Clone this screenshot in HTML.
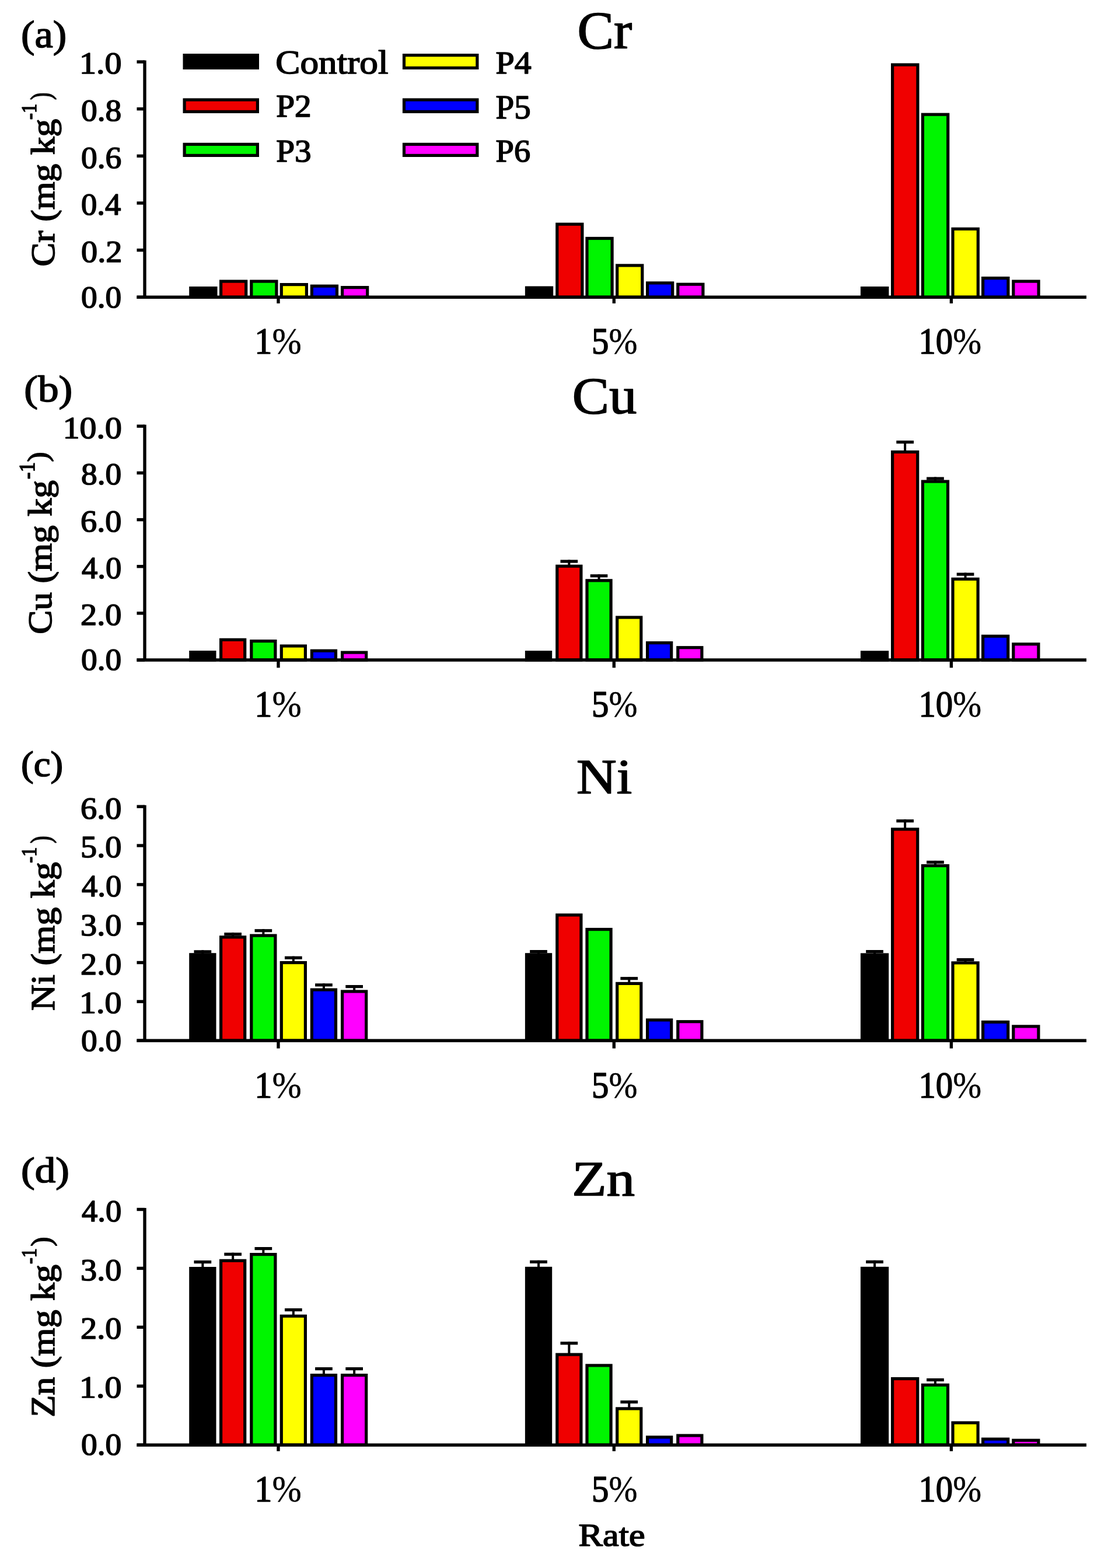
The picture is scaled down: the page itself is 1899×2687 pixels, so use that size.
<!DOCTYPE html>
<html><head><meta charset="utf-8"><title>Heavy metal concentrations</title>
<style>html,body{margin:0;padding:0;background:#fff;}svg{display:block;}</style>
</head><body>
<svg width="1899" height="2687" viewBox="0 0 1899 2687" font-family="'Liberation Serif', 'DejaVu Serif', serif" font-weight="normal" fill="#000">
<style>text{stroke:#000;stroke-width:1.6px;stroke-linejoin:round} .pc{stroke-width:0.4px}</style>
<line x1="248" y1="103.5" x2="248" y2="509.3" stroke="#000" stroke-width="5.4"/>
<line x1="234.5" y1="509.3" x2="248" y2="509.3" stroke="#000" stroke-width="5.4"/>
<line x1="234.5" y1="428.64" x2="248" y2="428.64" stroke="#000" stroke-width="5.4"/>
<line x1="234.5" y1="347.98" x2="248" y2="347.98" stroke="#000" stroke-width="5.4"/>
<line x1="234.5" y1="267.32" x2="248" y2="267.32" stroke="#000" stroke-width="5.4"/>
<line x1="234.5" y1="186.66" x2="248" y2="186.66" stroke="#000" stroke-width="5.4"/>
<line x1="234.5" y1="106" x2="248" y2="106" stroke="#000" stroke-width="5.4"/>
<rect x="326.8" y="493.6" width="43.1" height="15.7" fill="#000000" stroke="#000" stroke-width="5.2"/>
<rect x="378.6" y="482.1" width="43.1" height="27.2" fill="#f00000" stroke="#000" stroke-width="5.2"/>
<rect x="430.8" y="482.1" width="43.1" height="27.2" fill="#00f500" stroke="#000" stroke-width="5.2"/>
<rect x="482.3" y="487.6" width="43.1" height="21.7" fill="#ffff00" stroke="#000" stroke-width="5.2"/>
<rect x="534.4" y="490.2" width="43.1" height="19.1" fill="#0000ff" stroke="#000" stroke-width="5.2"/>
<rect x="586.6" y="492.6" width="43.1" height="16.7" fill="#ff00ff" stroke="#000" stroke-width="5.2"/>
<rect x="902.5" y="493.1" width="43.1" height="16.2" fill="#000000" stroke="#000" stroke-width="5.2"/>
<rect x="954.8" y="384.2" width="43.1" height="125.1" fill="#f00000" stroke="#000" stroke-width="5.2"/>
<rect x="1006" y="408.5" width="43.1" height="100.8" fill="#00f500" stroke="#000" stroke-width="5.2"/>
<rect x="1057.7" y="454.9" width="43.1" height="54.4" fill="#ffff00" stroke="#000" stroke-width="5.2"/>
<rect x="1109.6" y="484.9" width="43.1" height="24.4" fill="#0000ff" stroke="#000" stroke-width="5.2"/>
<rect x="1161.8" y="487.2" width="43.1" height="22.1" fill="#ff00ff" stroke="#000" stroke-width="5.2"/>
<rect x="1477.5" y="493.6" width="43.3" height="15.7" fill="#000000" stroke="#000" stroke-width="5.2"/>
<rect x="1529.6" y="111" width="43.3" height="398.3" fill="#f00000" stroke="#000" stroke-width="5.2"/>
<rect x="1581.4" y="196.2" width="43.3" height="313.1" fill="#00f500" stroke="#000" stroke-width="5.2"/>
<rect x="1633" y="392.3" width="43.3" height="117" fill="#ffff00" stroke="#000" stroke-width="5.2"/>
<rect x="1684.6" y="476.6" width="43.3" height="32.7" fill="#0000ff" stroke="#000" stroke-width="5.2"/>
<rect x="1736.8" y="482.1" width="43.3" height="27.2" fill="#ff00ff" stroke="#000" stroke-width="5.2"/>
<line x1="234.5" y1="509.3" x2="1862" y2="509.3" stroke="#000" stroke-width="5.4"/>
<line x1="477" y1="509.3" x2="477" y2="519.9" stroke="#000" stroke-width="5.4"/>
<line x1="1052.3" y1="509.3" x2="1052.3" y2="519.9" stroke="#000" stroke-width="5.4"/>
<line x1="1630.4" y1="509.3" x2="1630.4" y2="519.9" stroke="#000" stroke-width="5.4"/>
<line x1="248" y1="727.8" x2="248" y2="1131" stroke="#000" stroke-width="5.4"/>
<line x1="234.5" y1="1131" x2="248" y2="1131" stroke="#000" stroke-width="5.4"/>
<line x1="234.5" y1="1050.86" x2="248" y2="1050.86" stroke="#000" stroke-width="5.4"/>
<line x1="234.5" y1="970.72" x2="248" y2="970.72" stroke="#000" stroke-width="5.4"/>
<line x1="234.5" y1="890.58" x2="248" y2="890.58" stroke="#000" stroke-width="5.4"/>
<line x1="234.5" y1="810.44" x2="248" y2="810.44" stroke="#000" stroke-width="5.4"/>
<line x1="234.5" y1="730.3" x2="248" y2="730.3" stroke="#000" stroke-width="5.4"/>
<rect x="326.8" y="1117.6" width="41.1" height="13.4" fill="#000000" stroke="#000" stroke-width="5.2"/>
<rect x="378.6" y="1096.3" width="41.1" height="34.7" fill="#f00000" stroke="#000" stroke-width="5.2"/>
<rect x="430.8" y="1098.6" width="41.1" height="32.4" fill="#00f500" stroke="#000" stroke-width="5.2"/>
<rect x="482.3" y="1107" width="41.1" height="24" fill="#ffff00" stroke="#000" stroke-width="5.2"/>
<rect x="534.4" y="1115.2" width="41.1" height="15.8" fill="#0000ff" stroke="#000" stroke-width="5.2"/>
<rect x="586.6" y="1118.1" width="41.1" height="12.9" fill="#ff00ff" stroke="#000" stroke-width="5.2"/>
<rect x="902.5" y="1117.7" width="41.1" height="13.3" fill="#000000" stroke="#000" stroke-width="5.2"/>
<rect x="954.8" y="970.2" width="41.1" height="160.8" fill="#f00000" stroke="#000" stroke-width="5.2"/>
<rect x="973.35" y="959.4" width="4" height="9.2" fill="#000"/>
<rect x="960.5" y="959.4" width="29.7" height="5.2" fill="#000"/>
<rect x="1006" y="994.8" width="41.1" height="136.2" fill="#00f500" stroke="#000" stroke-width="5.2"/>
<rect x="1024.55" y="984.2" width="4" height="9" fill="#000"/>
<rect x="1011.7" y="984.2" width="29.7" height="5.2" fill="#000"/>
<rect x="1057.7" y="1058" width="41.1" height="73" fill="#ffff00" stroke="#000" stroke-width="5.2"/>
<rect x="1109.6" y="1101.6" width="41.1" height="29.4" fill="#0000ff" stroke="#000" stroke-width="5.2"/>
<rect x="1161.8" y="1109.7" width="41.1" height="21.3" fill="#ff00ff" stroke="#000" stroke-width="5.2"/>
<rect x="1477.5" y="1117.8" width="43.1" height="13.2" fill="#000000" stroke="#000" stroke-width="5.2"/>
<rect x="1529.6" y="774.5" width="43.1" height="356.5" fill="#f00000" stroke="#000" stroke-width="5.2"/>
<rect x="1549.15" y="755" width="4" height="17.9" fill="#000"/>
<rect x="1536.3" y="755" width="29.7" height="5.2" fill="#000"/>
<rect x="1581.4" y="825.1" width="43.1" height="305.9" fill="#00f500" stroke="#000" stroke-width="5.2"/>
<rect x="1600.95" y="817.5" width="4" height="6" fill="#000"/>
<rect x="1588.1" y="817.5" width="29.7" height="5.2" fill="#000"/>
<rect x="1633" y="992.3" width="43.1" height="138.7" fill="#ffff00" stroke="#000" stroke-width="5.2"/>
<rect x="1652.55" y="981.5" width="4" height="9.2" fill="#000"/>
<rect x="1639.7" y="981.5" width="29.7" height="5.2" fill="#000"/>
<rect x="1684.6" y="1090.2" width="43.1" height="40.8" fill="#0000ff" stroke="#000" stroke-width="5.2"/>
<rect x="1736.8" y="1103.8" width="43.1" height="27.2" fill="#ff00ff" stroke="#000" stroke-width="5.2"/>
<line x1="234.5" y1="1131" x2="1862" y2="1131" stroke="#000" stroke-width="5.4"/>
<line x1="477" y1="1131" x2="477" y2="1144.3" stroke="#000" stroke-width="5.4"/>
<line x1="1052.3" y1="1131" x2="1052.3" y2="1144.3" stroke="#000" stroke-width="5.4"/>
<line x1="1630.4" y1="1131" x2="1630.4" y2="1144.3" stroke="#000" stroke-width="5.4"/>
<line x1="248" y1="1379.7" x2="248" y2="1783.2" stroke="#000" stroke-width="5.4"/>
<line x1="234.5" y1="1783.2" x2="248" y2="1783.2" stroke="#000" stroke-width="5.4"/>
<line x1="234.5" y1="1716.37" x2="248" y2="1716.37" stroke="#000" stroke-width="5.4"/>
<line x1="234.5" y1="1649.53" x2="248" y2="1649.53" stroke="#000" stroke-width="5.4"/>
<line x1="234.5" y1="1582.7" x2="248" y2="1582.7" stroke="#000" stroke-width="5.4"/>
<line x1="234.5" y1="1515.87" x2="248" y2="1515.87" stroke="#000" stroke-width="5.4"/>
<line x1="234.5" y1="1449.03" x2="248" y2="1449.03" stroke="#000" stroke-width="5.4"/>
<line x1="234.5" y1="1382.2" x2="248" y2="1382.2" stroke="#000" stroke-width="5.4"/>
<rect x="326.8" y="1635.8" width="41.1" height="147.4" fill="#000000" stroke="#000" stroke-width="5.2"/>
<rect x="345.35" y="1628.3" width="4" height="5.9" fill="#000"/>
<rect x="332.5" y="1628.3" width="29.7" height="5.2" fill="#000"/>
<rect x="378.6" y="1605.9" width="41.1" height="177.3" fill="#f00000" stroke="#000" stroke-width="5.2"/>
<rect x="397.15" y="1598.2" width="4" height="6.1" fill="#000"/>
<rect x="384.3" y="1598.2" width="29.7" height="5.2" fill="#000"/>
<rect x="430.8" y="1603.2" width="41.1" height="180" fill="#00f500" stroke="#000" stroke-width="5.2"/>
<rect x="449.35" y="1592.2" width="4" height="9.4" fill="#000"/>
<rect x="436.5" y="1592.2" width="29.7" height="5.2" fill="#000"/>
<rect x="482.3" y="1649.6" width="41.1" height="133.6" fill="#ffff00" stroke="#000" stroke-width="5.2"/>
<rect x="500.85" y="1638.7" width="4" height="9.3" fill="#000"/>
<rect x="488" y="1638.7" width="29.7" height="5.2" fill="#000"/>
<rect x="534.4" y="1696.1" width="41.1" height="87.1" fill="#0000ff" stroke="#000" stroke-width="5.2"/>
<rect x="552.95" y="1685.3" width="4" height="9.2" fill="#000"/>
<rect x="540.1" y="1685.3" width="29.7" height="5.2" fill="#000"/>
<rect x="586.6" y="1699" width="41.1" height="84.2" fill="#ff00ff" stroke="#000" stroke-width="5.2"/>
<rect x="605.15" y="1688" width="4" height="9.4" fill="#000"/>
<rect x="592.3" y="1688" width="29.7" height="5.2" fill="#000"/>
<rect x="902.5" y="1635.8" width="41.1" height="147.4" fill="#000000" stroke="#000" stroke-width="5.2"/>
<rect x="921.05" y="1628" width="4" height="6.2" fill="#000"/>
<rect x="908.2" y="1628" width="29.7" height="5.2" fill="#000"/>
<rect x="954.8" y="1568" width="41.1" height="215.2" fill="#f00000" stroke="#000" stroke-width="5.2"/>
<rect x="1006" y="1592.6" width="41.1" height="190.6" fill="#00f500" stroke="#000" stroke-width="5.2"/>
<rect x="1057.7" y="1685.4" width="41.1" height="97.8" fill="#ffff00" stroke="#000" stroke-width="5.2"/>
<rect x="1076.25" y="1674.1" width="4" height="9.7" fill="#000"/>
<rect x="1063.4" y="1674.1" width="29.7" height="5.2" fill="#000"/>
<rect x="1109.6" y="1747.9" width="41.1" height="35.3" fill="#0000ff" stroke="#000" stroke-width="5.2"/>
<rect x="1161.8" y="1750.7" width="41.1" height="32.5" fill="#ff00ff" stroke="#000" stroke-width="5.2"/>
<rect x="1477.5" y="1636" width="43.1" height="147.2" fill="#000000" stroke="#000" stroke-width="5.2"/>
<rect x="1497.05" y="1628" width="4" height="6.4" fill="#000"/>
<rect x="1484.2" y="1628" width="29.7" height="5.2" fill="#000"/>
<rect x="1529.6" y="1421" width="43.1" height="362.2" fill="#f00000" stroke="#000" stroke-width="5.2"/>
<rect x="1549.15" y="1404.2" width="4" height="15.2" fill="#000"/>
<rect x="1536.3" y="1404.2" width="29.7" height="5.2" fill="#000"/>
<rect x="1581.4" y="1483.5" width="43.1" height="299.7" fill="#00f500" stroke="#000" stroke-width="5.2"/>
<rect x="1600.95" y="1474.9" width="4" height="7" fill="#000"/>
<rect x="1588.1" y="1474.9" width="29.7" height="5.2" fill="#000"/>
<rect x="1633" y="1650" width="43.1" height="133.2" fill="#ffff00" stroke="#000" stroke-width="5.2"/>
<rect x="1652.55" y="1642" width="4" height="6.4" fill="#000"/>
<rect x="1639.7" y="1642" width="29.7" height="5.2" fill="#000"/>
<rect x="1684.6" y="1751.4" width="43.1" height="31.8" fill="#0000ff" stroke="#000" stroke-width="5.2"/>
<rect x="1736.8" y="1758.9" width="43.1" height="24.3" fill="#ff00ff" stroke="#000" stroke-width="5.2"/>
<line x1="234.5" y1="1783.2" x2="1862" y2="1783.2" stroke="#000" stroke-width="5.4"/>
<line x1="477" y1="1783.2" x2="477" y2="1796.6" stroke="#000" stroke-width="5.4"/>
<line x1="1052.3" y1="1783.2" x2="1052.3" y2="1796.6" stroke="#000" stroke-width="5.4"/>
<line x1="1630.4" y1="1783.2" x2="1630.4" y2="1796.6" stroke="#000" stroke-width="5.4"/>
<line x1="248" y1="2070" x2="248" y2="2476.2" stroke="#000" stroke-width="5.4"/>
<line x1="234.5" y1="2476.2" x2="248" y2="2476.2" stroke="#000" stroke-width="5.4"/>
<line x1="234.5" y1="2375.27" x2="248" y2="2375.27" stroke="#000" stroke-width="5.4"/>
<line x1="234.5" y1="2274.35" x2="248" y2="2274.35" stroke="#000" stroke-width="5.4"/>
<line x1="234.5" y1="2173.43" x2="248" y2="2173.43" stroke="#000" stroke-width="5.4"/>
<line x1="234.5" y1="2072.5" x2="248" y2="2072.5" stroke="#000" stroke-width="5.4"/>
<rect x="326.8" y="2173.6" width="41.1" height="302.6" fill="#000000" stroke="#000" stroke-width="5.2"/>
<rect x="345.35" y="2160" width="4" height="12" fill="#000"/>
<rect x="332.5" y="2160" width="29.7" height="5.2" fill="#000"/>
<rect x="378.6" y="2160.3" width="41.1" height="315.9" fill="#f00000" stroke="#000" stroke-width="5.2"/>
<rect x="397.15" y="2146.7" width="4" height="12" fill="#000"/>
<rect x="384.3" y="2146.7" width="29.7" height="5.2" fill="#000"/>
<rect x="430.8" y="2149.6" width="41.1" height="326.6" fill="#00f500" stroke="#000" stroke-width="5.2"/>
<rect x="449.35" y="2137" width="4" height="11" fill="#000"/>
<rect x="436.5" y="2137" width="29.7" height="5.2" fill="#000"/>
<rect x="482.3" y="2255.3" width="41.1" height="220.9" fill="#ffff00" stroke="#000" stroke-width="5.2"/>
<rect x="500.85" y="2242" width="4" height="11.7" fill="#000"/>
<rect x="488" y="2242" width="29.7" height="5.2" fill="#000"/>
<rect x="534.4" y="2356.6" width="41.1" height="119.6" fill="#0000ff" stroke="#000" stroke-width="5.2"/>
<rect x="552.95" y="2343" width="4" height="12" fill="#000"/>
<rect x="540.1" y="2343" width="29.7" height="5.2" fill="#000"/>
<rect x="586.6" y="2356.6" width="41.1" height="119.6" fill="#ff00ff" stroke="#000" stroke-width="5.2"/>
<rect x="605.15" y="2343" width="4" height="12" fill="#000"/>
<rect x="592.3" y="2343" width="29.7" height="5.2" fill="#000"/>
<rect x="902.5" y="2173.4" width="41.1" height="302.8" fill="#000000" stroke="#000" stroke-width="5.2"/>
<rect x="921.05" y="2159.8" width="4" height="12" fill="#000"/>
<rect x="908.2" y="2159.8" width="29.7" height="5.2" fill="#000"/>
<rect x="954.8" y="2321.2" width="41.1" height="155" fill="#f00000" stroke="#000" stroke-width="5.2"/>
<rect x="973.35" y="2299.2" width="4" height="20.4" fill="#000"/>
<rect x="960.5" y="2299.2" width="29.7" height="5.2" fill="#000"/>
<rect x="1006" y="2339.9" width="41.1" height="136.3" fill="#00f500" stroke="#000" stroke-width="5.2"/>
<rect x="1057.7" y="2413.9" width="41.1" height="62.3" fill="#ffff00" stroke="#000" stroke-width="5.2"/>
<rect x="1076.25" y="2399.9" width="4" height="12.4" fill="#000"/>
<rect x="1063.4" y="2399.9" width="29.7" height="5.2" fill="#000"/>
<rect x="1109.6" y="2462.8" width="41.1" height="13.4" fill="#0000ff" stroke="#000" stroke-width="5.2"/>
<rect x="1161.8" y="2460" width="41.1" height="16.2" fill="#ff00ff" stroke="#000" stroke-width="5.2"/>
<rect x="1477.5" y="2173.4" width="43.1" height="302.8" fill="#000000" stroke="#000" stroke-width="5.2"/>
<rect x="1497.05" y="2159.8" width="4" height="12" fill="#000"/>
<rect x="1484.2" y="2159.8" width="29.7" height="5.2" fill="#000"/>
<rect x="1529.6" y="2362.6" width="43.1" height="113.6" fill="#f00000" stroke="#000" stroke-width="5.2"/>
<rect x="1581.4" y="2373.4" width="43.1" height="102.8" fill="#00f500" stroke="#000" stroke-width="5.2"/>
<rect x="1600.95" y="2362" width="4" height="9.8" fill="#000"/>
<rect x="1588.1" y="2362" width="29.7" height="5.2" fill="#000"/>
<rect x="1633" y="2438.1" width="43.1" height="38.1" fill="#ffff00" stroke="#000" stroke-width="5.2"/>
<rect x="1684.6" y="2466.1" width="43.1" height="10.1" fill="#0000ff" stroke="#000" stroke-width="5.2"/>
<rect x="1736.8" y="2468.2" width="43.1" height="8" fill="#ff00ff" stroke="#000" stroke-width="5.2"/>
<line x1="234.5" y1="2476.2" x2="1862" y2="2476.2" stroke="#000" stroke-width="5.4"/>
<line x1="477" y1="2476.2" x2="477" y2="2486.8" stroke="#000" stroke-width="5.4"/>
<line x1="1052.3" y1="2476.2" x2="1052.3" y2="2486.8" stroke="#000" stroke-width="5.4"/>
<line x1="1630.4" y1="2476.2" x2="1630.4" y2="2486.8" stroke="#000" stroke-width="5.4"/>
<rect x="316.1" y="94.6" width="125.3" height="21.8" fill="#000000" stroke="#000" stroke-width="5.2"/>
<rect x="316.1" y="171" width="125.3" height="20.4" fill="#f00000" stroke="#000" stroke-width="5.2"/>
<rect x="316.1" y="247.3" width="125.3" height="19.1" fill="#00f500" stroke="#000" stroke-width="5.2"/>
<rect x="692.5" y="94.6" width="125.4" height="21.8" fill="#ffff00" stroke="#000" stroke-width="5.2"/>
<rect x="692.5" y="171" width="125.4" height="20.4" fill="#0000ff" stroke="#000" stroke-width="5.2"/>
<rect x="692.5" y="247.3" width="125.4" height="19.1" fill="#ff00ff" stroke="#000" stroke-width="5.2"/>
<text id="ta0" x="139.02" y="526.54" font-size="53.6" textLength="69.32" lengthAdjust="spacingAndGlyphs">0.0</text>
<text id="ta1" x="139" y="449.27" font-size="53.6" textLength="70.35" lengthAdjust="spacingAndGlyphs">0.2</text>
<text id="ta2" x="139.02" y="367.99" font-size="53.6" textLength="68.31" lengthAdjust="spacingAndGlyphs">0.4</text>
<text id="ta3" x="139.02" y="287.76" font-size="53.6" textLength="69.32" lengthAdjust="spacingAndGlyphs">0.6</text>
<text id="ta4" x="139.02" y="206.5" font-size="53.6" textLength="69.32" lengthAdjust="spacingAndGlyphs">0.8</text>
<text id="ta5" x="135.92" y="126.22" font-size="53.6" textLength="72.51" lengthAdjust="spacingAndGlyphs">1.0</text>
<text id="xa0" x="436.26" y="606.3" font-size="64.3" textLength="80.45" lengthAdjust="spacingAndGlyphs">1<tspan class="pc">%</tspan></text>
<text id="xa1" x="1013.96" y="606.3" font-size="64.3" textLength="78.56" lengthAdjust="spacingAndGlyphs">5<tspan class="pc">%</tspan></text>
<text id="xa2" x="1574.46" y="606.3" font-size="64.3" textLength="107.65" lengthAdjust="spacingAndGlyphs">10<tspan class="pc">%</tspan></text>
<text id="tia" x="989.42" y="83.42" font-size="89.98" textLength="93.68" lengthAdjust="spacingAndGlyphs">Cr</text>
<text id="pla" x="35.96" y="80.88" font-size="65.34" textLength="78.25" lengthAdjust="spacingAndGlyphs">(a)</text>
<text id="yma" transform="translate(93.04 456.76) rotate(-90)" font-size="58.06" textLength="253.15" lengthAdjust="spacingAndGlyphs">Cr (mg kg</text>
<text id="ysa" transform="translate(61.62 204.91) rotate(-90)" font-size="35.65" textLength="27.15" lengthAdjust="spacingAndGlyphs">-1</text>
<text id="ypa" transform="translate(86.28 170.98) rotate(-90)" font-size="49.36" textLength="12.39" lengthAdjust="spacingAndGlyphs">)</text>
<text id="tb0" x="139.02" y="1148.21" font-size="53.6" textLength="69.32" lengthAdjust="spacingAndGlyphs">0.0</text>
<text id="tb1" x="138" y="1070.78" font-size="53.6" textLength="70.35" lengthAdjust="spacingAndGlyphs">2.0</text>
<text id="tb2" x="140.02" y="991.32" font-size="53.6" textLength="68.31" lengthAdjust="spacingAndGlyphs">4.0</text>
<text id="tb3" x="138" y="910.87" font-size="53.6" textLength="70.35" lengthAdjust="spacingAndGlyphs">6.0</text>
<text id="tb4" x="139.02" y="830.39" font-size="53.6" textLength="69.32" lengthAdjust="spacingAndGlyphs">8.0</text>
<text id="tb5" x="107.76" y="751.02" font-size="53.6" textLength="101.03" lengthAdjust="spacingAndGlyphs">10.0</text>
<text id="xb0" x="436.26" y="1228.12" font-size="64.3" textLength="80.45" lengthAdjust="spacingAndGlyphs">1<tspan class="pc">%</tspan></text>
<text id="xb1" x="1013.96" y="1228.12" font-size="64.3" textLength="78.56" lengthAdjust="spacingAndGlyphs">5<tspan class="pc">%</tspan></text>
<text id="xb2" x="1574.46" y="1228.12" font-size="64.3" textLength="107.65" lengthAdjust="spacingAndGlyphs">10<tspan class="pc">%</tspan></text>
<text id="tib" x="980.81" y="708.4" font-size="88.52" textLength="110.81" lengthAdjust="spacingAndGlyphs">Cu</text>
<text id="plb" x="41.19" y="687.95" font-size="64.3" textLength="83.18" lengthAdjust="spacingAndGlyphs">(b)</text>
<text id="ymb" transform="translate(87.73 1086.86) rotate(-90)" font-size="58.08" textLength="263.92" lengthAdjust="spacingAndGlyphs">Cu (mg kg</text>
<text id="ysb" transform="translate(58.87 820.96) rotate(-90)" font-size="38.29" textLength="29.05" lengthAdjust="spacingAndGlyphs">-1</text>
<text id="ypb" transform="translate(80.96 791.49) rotate(-90)" font-size="48.34" textLength="16.86" lengthAdjust="spacingAndGlyphs">)</text>
<text id="tc0" x="139.02" y="1800.62" font-size="53.6" textLength="69.32" lengthAdjust="spacingAndGlyphs">0.0</text>
<text id="tc1" x="135.92" y="1736.14" font-size="53.6" textLength="72.51" lengthAdjust="spacingAndGlyphs">1.0</text>
<text id="tc2" x="138" y="1669.61" font-size="53.6" textLength="70.35" lengthAdjust="spacingAndGlyphs">2.0</text>
<text id="tc3" x="138" y="1603.12" font-size="53.6" textLength="70.35" lengthAdjust="spacingAndGlyphs">3.0</text>
<text id="tc4" x="140.02" y="1535.63" font-size="53.6" textLength="68.31" lengthAdjust="spacingAndGlyphs">4.0</text>
<text id="tc5" x="138" y="1469.11" font-size="53.6" textLength="70.35" lengthAdjust="spacingAndGlyphs">5.0</text>
<text id="tc6" x="138" y="1402.6" font-size="53.6" textLength="70.35" lengthAdjust="spacingAndGlyphs">6.0</text>
<text id="xc0" x="436.26" y="1880.5" font-size="64.3" textLength="80.45" lengthAdjust="spacingAndGlyphs">1<tspan class="pc">%</tspan></text>
<text id="xc1" x="1013.96" y="1880.5" font-size="64.3" textLength="78.56" lengthAdjust="spacingAndGlyphs">5<tspan class="pc">%</tspan></text>
<text id="xc2" x="1574.46" y="1880.5" font-size="64.3" textLength="107.65" lengthAdjust="spacingAndGlyphs">10<tspan class="pc">%</tspan></text>
<text id="tic" x="988.03" y="1360" font-size="84.08" textLength="95.07" lengthAdjust="spacingAndGlyphs">Ni</text>
<text id="plc" x="35.96" y="1329.7" font-size="62" textLength="72.27" lengthAdjust="spacingAndGlyphs">(c)</text>
<text id="ymc" transform="translate(93.04 1731.97) rotate(-90)" font-size="58.06" textLength="254.58" lengthAdjust="spacingAndGlyphs">Ni (mg kg</text>
<text id="ysc" transform="translate(61.62 1478.76) rotate(-90)" font-size="35.65" textLength="27.06" lengthAdjust="spacingAndGlyphs">-1</text>
<text id="ypc" transform="translate(86.29 1444.89) rotate(-90)" font-size="49.38" textLength="12.5" lengthAdjust="spacingAndGlyphs">)</text>
<text id="td0" x="139.02" y="2493.45" font-size="53.6" textLength="69.32" lengthAdjust="spacingAndGlyphs">0.0</text>
<text id="td1" x="135.92" y="2395.24" font-size="53.6" textLength="72.51" lengthAdjust="spacingAndGlyphs">1.0</text>
<text id="td2" x="138" y="2294.1" font-size="53.6" textLength="70.35" lengthAdjust="spacingAndGlyphs">2.0</text>
<text id="td3" x="138" y="2193.88" font-size="53.6" textLength="70.35" lengthAdjust="spacingAndGlyphs">3.0</text>
<text id="td4" x="140.02" y="2092.74" font-size="53.6" textLength="68.31" lengthAdjust="spacingAndGlyphs">4.0</text>
<text id="xd0" x="436.26" y="2573.32" font-size="64.3" textLength="80.45" lengthAdjust="spacingAndGlyphs">1<tspan class="pc">%</tspan></text>
<text id="xd1" x="1013.96" y="2573.32" font-size="64.3" textLength="78.56" lengthAdjust="spacingAndGlyphs">5<tspan class="pc">%</tspan></text>
<text id="xd2" x="1574.46" y="2573.32" font-size="64.3" textLength="107.65" lengthAdjust="spacingAndGlyphs">10<tspan class="pc">%</tspan></text>
<text id="tid" x="980.21" y="2049.43" font-size="84.17" textLength="107.96" lengthAdjust="spacingAndGlyphs">Zn</text>
<text id="pld" x="36" y="2026.14" font-size="60.94" textLength="82.85" lengthAdjust="spacingAndGlyphs">(d)</text>
<text id="ymd" transform="translate(93.04 2428.54) rotate(-90)" font-size="58.06" textLength="261.4" lengthAdjust="spacingAndGlyphs">Zn (mg kg</text>
<text id="ysd" transform="translate(61.62 2166.01) rotate(-90)" font-size="35.65" textLength="26.83" lengthAdjust="spacingAndGlyphs">-1</text>
<text id="ypd" transform="translate(86.66 2135.68) rotate(-90)" font-size="49.37" textLength="16.21" lengthAdjust="spacingAndGlyphs">)</text>
<text id="lgControl" x="472.24" y="126.21" font-size="56.76" textLength="193.26" lengthAdjust="spacingAndGlyphs">Control</text>
<text id="lgP2" x="473.19" y="199.86" font-size="55.12" textLength="60.5" lengthAdjust="spacingAndGlyphs">P2</text>
<text id="lgP3" x="473.19" y="276.57" font-size="55.28" textLength="60.5" lengthAdjust="spacingAndGlyphs">P3</text>
<text id="lgP4" x="849.57" y="126.41" font-size="55.22" textLength="61.16" lengthAdjust="spacingAndGlyphs">P4</text>
<text id="lgP5" x="849.59" y="202.67" font-size="58.04" textLength="60.18" lengthAdjust="spacingAndGlyphs">P5</text>
<text id="lgP6" x="849.6" y="276.76" font-size="55.27" textLength="59.48" lengthAdjust="spacingAndGlyphs">P6</text>
<text id="rate" x="991.52" y="2649.05" font-size="54.2" textLength="114.03" lengthAdjust="spacingAndGlyphs">Rate</text>
</svg>
</body></html>
